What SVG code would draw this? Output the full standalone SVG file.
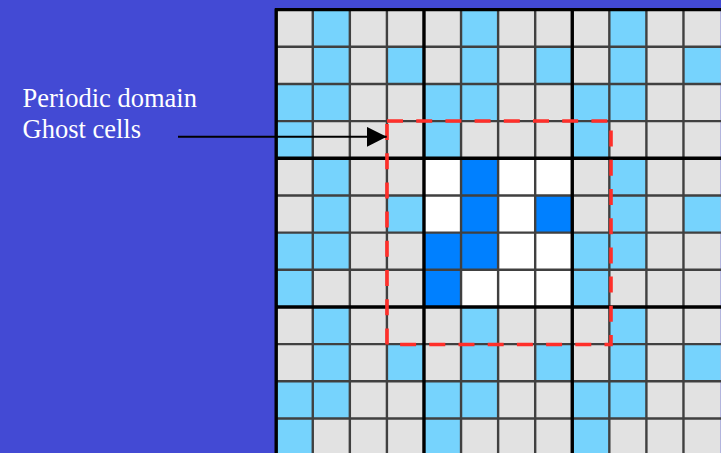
<svg xmlns="http://www.w3.org/2000/svg" xmlns:xlink="http://www.w3.org/1999/xlink" width="721" height="453" viewBox="0 0 721 453">
<style>
.lbl{font-family:"Liberation Serif","Times New Roman",serif;font-size:26.5px;fill:#ffffff}
.thin{stroke:#404040;stroke-width:2.4;fill:none}
.thick{stroke:#000000;stroke-width:3.4;fill:none}
.ghost{fill:#e2e2e2}
.inner{fill:#ffffff}
.box{fill:none;stroke:#ff2f2a;stroke-width:3.6;stroke-dasharray:16 13.2}
</style>
<defs>
<g id="tile">
<rect x="37.07" y="0" width="37.07" height="37.17"/>
<rect x="37.07" y="37.17" width="37.07" height="37.17"/>
<rect x="111.21" y="37.17" width="37.07" height="37.17"/>
<rect x="0" y="74.34" width="37.07" height="37.17"/>
<rect x="37.07" y="74.34" width="37.07" height="37.17"/>
<rect x="0" y="111.51" width="37.07" height="37.17"/>
</g>
<marker id="ah" markerWidth="20" markerHeight="20" refX="20" refY="10" orient="auto" markerUnits="userSpaceOnUse">
<path d="M0,0 L20,10 L0,20 Z" fill="#000"/>
</marker>
</defs>
<rect x="0" y="0" width="721" height="453" fill="#434ad4"/>
<g id="grid">
<rect class="ghost" x="275.7" y="9.6" width="445" height="446"/>
<rect class="inner" x="423.98" y="158.28" width="148.28" height="148.68"/>
<g fill="#76d3fd">
<use xlink:href="#tile" x="275.7" y="9.6"/>
<use xlink:href="#tile" x="423.98" y="9.6"/>
<use xlink:href="#tile" x="572.26" y="9.6"/>
<use xlink:href="#tile" x="275.7" y="158.28"/>
<use xlink:href="#tile" x="572.26" y="158.28"/>
<use xlink:href="#tile" x="275.7" y="306.96"/>
<use xlink:href="#tile" x="423.98" y="306.96"/>
<use xlink:href="#tile" x="572.26" y="306.96"/>
</g>
<g id="domain" fill="#0080ff">
<use xlink:href="#tile" x="423.98" y="158.28"/>
</g>
<path class="thin" d="M312.77,9.6V453 M349.84,9.6V453 M386.91,9.6V453 M461.05,9.6V453 M498.12,9.6V453 M535.19,9.6V453 M609.33,9.6V453 M646.4,9.6V453 M683.47,9.6V453 M275.7,46.77H721 M275.7,83.94H721 M275.7,121.11H721 M275.7,195.45H721 M275.7,232.62H721 M275.7,269.79H721 M275.7,344.13H721 M275.7,381.3H721 M275.7,418.47H721"/>
<path class="thick" d="M276.2,8.5V453 M423.98,9.6V453 M572.26,9.6V453 M275,9.6H721 M275.7,158.28H721 M275.7,306.96H721"/>
</g>
<g id="ghost-box">
<rect class="box" x="387" y="121" width="224" height="223.5"/>
</g>
<g id="label">
<text class="lbl" x="22.5" y="106.7">Periodic domain</text>
<text class="lbl" x="22.5" y="138">Ghost cells</text>
</g>
<g id="connectors">
<line x1="178" y1="136.8" x2="386.7" y2="136.8" stroke="#000" stroke-width="2" marker-end="url(#ah)"/>
</g>
</svg>
